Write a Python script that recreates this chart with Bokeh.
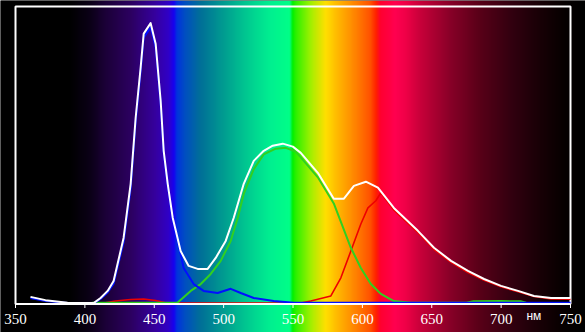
import numpy as np
from bokeh.plotting import figure
from bokeh.models import Range1d
from bokeh.core.properties import value
from bokeh.embed import file_html
from bokeh.resources import INLINE

# wavelength (nm) and relative intensity (% of plot height)
wl_white = [360.8, 371.6, 387.5, 406.3, 411.3, 416.4, 420.7, 427.9, 433.0, 436.6, 440.2, 442.4,
            447.4, 451.0, 454.6, 456.8, 459.7, 463.3, 469.0, 474.8, 481.3, 488.5, 494.3, 501.5,
            507.3, 514.5, 521.7, 528.9, 535.4, 542.6, 549.9, 555.6, 567.9, 579.4, 586.7, 593.9,
            602.5, 611.2, 622.7, 640.0, 651.6, 663.9, 676.1, 687.7, 699.9, 712.2, 723.7, 736.0, 750.0]
white = [2.4, 1.3, 0.4, 0.3, 2.0, 4.4, 7.7, 22.2, 40.4, 62.6, 79.5, 90.9,
         94.4, 87.5, 68.4, 51.5, 40.4, 29.0, 17.8, 12.8, 11.8, 11.8, 15.5, 21.2,
         29.0, 40.4, 48.1, 51.5, 53.2, 53.9, 52.9, 50.8, 44.1, 35.4, 35.4, 39.7,
         41.1, 39.1, 32.3, 24.6, 18.9, 14.5, 11.1, 8.4, 6.1, 4.4, 2.7, 2.0, 2.0]

wl_blue = [360.8, 371.6, 387.5, 406.3, 411.3, 416.4, 420.7, 427.9, 433.0, 436.6, 440.2, 442.4,
           447.4, 451.0, 454.6, 456.8, 459.7, 463.3, 469.0, 471.2, 478.4, 485.6, 495.7, 505.1,
           512.3, 521.7, 536.1, 550.6, 600.0, 650.0, 700.0, 750.0]
blue = [2.0, 1.0, 0.3, 0.2, 1.7, 3.9, 6.8, 20.8, 38.8, 61.2, 78.2, 89.6,
        93.0, 86.4, 67.8, 51.0, 40.0, 28.6, 16.8, 12.1, 6.7, 4.4, 3.7, 5.1,
        3.7, 2.0, 1.0, 0.4, 0.4, 0.4, 0.4, 0.4]

wl_green = [405.0, 440.0, 466.9, 476.3, 483.5, 490.7, 497.9, 505.1, 510.2, 514.5, 521.7, 528.9,
            537.6, 544.8, 552.0, 555.6, 567.9, 579.4, 591.7, 598.9, 606.1, 613.3, 622.7, 635.0,
            675.0, 680.0, 700.0, 714.0, 718.0]
green = [0.4, 0.4, 0.5, 4.4, 6.7, 10.1, 14.5, 21.2, 29.0, 37.0, 45.3, 50.3,
         52.2, 52.5, 51.2, 49.3, 42.6, 33.8, 18.9, 12.1, 6.7, 3.4, 1.0, 0.4,
         0.4, 0.9, 1.0, 0.9, 0.4]

wl_red = [405.0, 415.0, 422.0, 433.0, 442.4, 451.0, 458.0, 480.0, 555.6, 562.8, 577.3, 584.5,
          591.7, 598.9, 604.0, 609.7, 613.3, 622.7, 640.0, 651.6, 663.9, 676.1, 687.7, 699.9,
          712.2, 723.7, 736.0, 750.0]
red = [0.3, 0.4, 1.0, 1.5, 1.7, 1.2, 0.4, 0.3, 0.3, 1.0, 2.7, 8.8,
       17.8, 26.9, 32.3, 34.7, 37.4, 31.5, 24.0, 18.3, 14.0, 10.6, 8.0, 5.8,
       4.1, 2.5, 1.7, 1.6]

ticks = [350, 400, 450, 500, 550, 600, 650, 700, 750]
tick_labels = [str(t) for t in ticks]
unit_label = "нм"

# background spectrum colour stops (wavelength, colour)
spec_wl = [339.2, 388.2, 404.1, 414.9, 432.9, 450.9, 460.3, 463.9, 466.0, 472.5, 483.3, 501.4,
           519.4, 533.8, 547.5, 549.6, 552.5, 562.6, 573.4, 584.2, 595.8, 605.9, 610.2, 613.1,
           623.9, 631.1, 641.9, 663.5, 685.1, 706.8, 728.4, 746.4, 760.8]
spec_col = ["#000000", "#000000", "#0c0018", "#1c0038", "#2c0060", "#3600a0", "#3000c8", "#1800f0",
            "#0030e0", "#0050c0", "#006f98", "#00a090", "#00d090", "#00f090", "#00ff88", "#00f000",
            "#30f000", "#a0f000", "#ffe000", "#ffb000", "#ff8000", "#ff5000", "#ff2000", "#ff0030",
            "#ff0050", "#f00048", "#c8003a", "#880028", "#580018", "#340010", "#180006", "#060000",
            "#000000"]

W, H = 585, 332
# pixel layout of the frame: x 350..750 -> px 15..570 ; y 0..100 -> py 303.5..6
kx = (570 - 15) / (ticks[-1] - ticks[0])
ky = (303.5 - 6) / 100.0
xs = ticks[0] - 15 / kx
xe = xs + W / kx
ye = 100 + 6 / ky
ys = -(H - 303.5) / ky

p = figure(width=W, height=H, output_backend="svg", toolbar_location=None,
           x_range=Range1d(xs, xe), y_range=Range1d(ys, ye),
           x_axis_location=None, y_axis_location=None,
           min_border=0, min_border_left=0, min_border_right=0,
           min_border_top=0, min_border_bottom=0,
           background_fill_color="black", border_fill_color="black",
           outline_line_color=None)
p.grid.visible = False

# spectrum background
ncol = 1200
gx = np.linspace(xs, xe, ncol)
rgb = np.array([[int(c[1:3], 16), int(c[3:5], 16), int(c[5:7], 16)] for c in spec_col], dtype=float)
img = np.zeros((1, ncol), dtype=np.uint32)
view = img.view(dtype=np.uint8).reshape((1, ncol, 4))
for ch in range(3):
    view[0, :, ch] = np.clip(np.interp(gx, spec_wl, rgb[:, ch]), 0, 255).astype(np.uint8)
view[0, :, 3] = 255
p.image_rgba(image=[img], x=xs, y=ys, dw=xe - xs, dh=ye - ys)

# frame
p.quad(left=ticks[0], right=ticks[-1], bottom=0, top=100,
       fill_color=None, line_color="white", line_width=2)

# x axis ticks and labels
p.segment(x0=ticks, y0=[0] * len(ticks), x1=ticks, y1=[-4 / ky] * len(ticks),
          line_color="white", line_width=1)
p.text(x=ticks, y=[-10 / ky] * len(ticks), text=tick_labels, text_color="white",
       text_font=value("Liberation Sans Narrow"), text_font_size="15px",
       text_align="center", text_baseline="top")
p.text(x=[723.6], y=[-12 / ky], text=[unit_label], text_color="white",
       text_font=value("Liberation Sans"), text_font_size="12px",
       text_align="center", text_baseline="middle")

# spectra
p.line(wl_red, red, line_color="#ee0000", line_width=1.6, line_join="round")
p.line(wl_green, green, line_color="#30d020", line_width=2, line_join="round")
p.line(wl_blue, blue, line_color="#0010ff", line_width=2, line_join="round")
p.line(wl_white, white, line_color="white", line_width=2, line_join="round")

# axis line on top
p.segment(x0=[ticks[0]], y0=[0], x1=[ticks[-1]], y1=[0], line_color="white", line_width=2)

open("out.html", "w").write(file_html(p, INLINE))
